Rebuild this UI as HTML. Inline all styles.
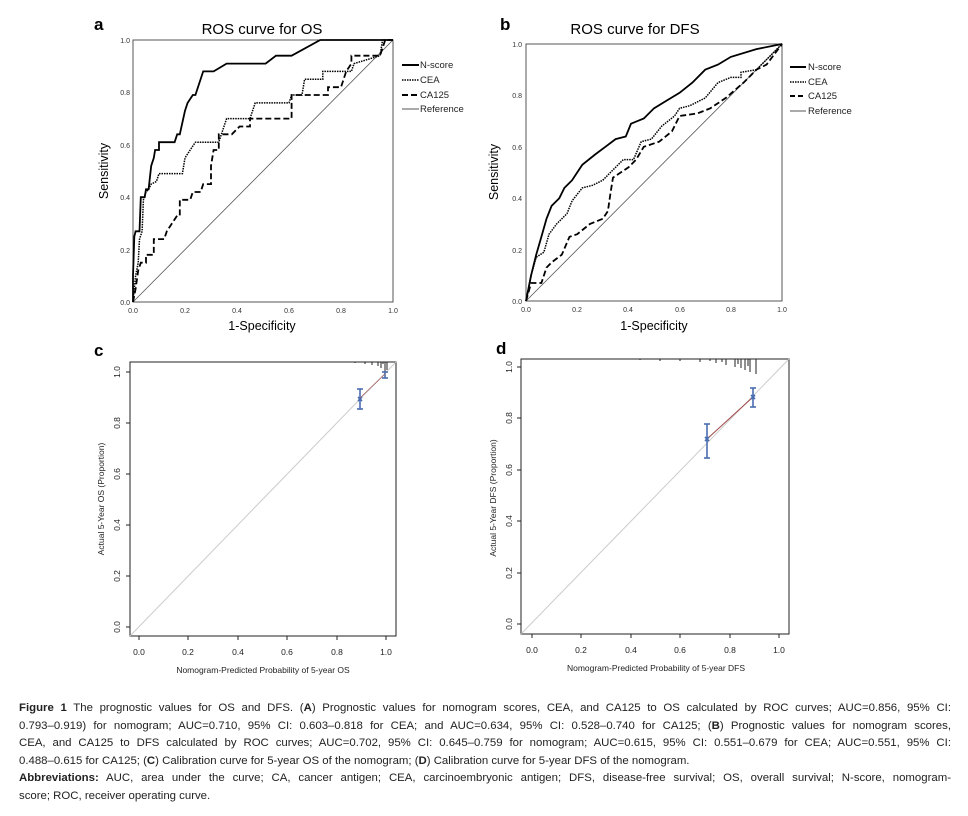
<!DOCTYPE html>
<html><head><meta charset="utf-8">
<style>
body{margin:0;background:#fff;width:968px;height:816px;overflow:hidden;font-family:"Liberation Sans",sans-serif}
svg{position:absolute;left:0;top:0}
.cap{position:absolute;left:19px;top:700px;width:932px;font-size:11.4px;line-height:17.6px;color:#222;font-family:"Liberation Sans",sans-serif}
.cap div{white-space:nowrap;text-align:justify;text-align-last:justify}
.cap div.l{text-align-last:left}
</style></head><body>
<svg id="s" width="968" height="690" viewBox="0 0 968 690" font-family="Liberation Sans, sans-serif">
<!-- panel a -->
<text x="94" y="30" font-size="17" font-weight="bold">a</text>
<text x="262" y="34" font-size="15" text-anchor="middle">ROS curve for OS</text>
<rect x="133" y="40" width="260" height="262" fill="none" stroke="#555" stroke-width="1"/>
<g font-size="7" fill="#333" text-anchor="end">
<text x="130" y="43">1.0</text><text x="130" y="95">0.8</text><text x="130" y="148">0.6</text><text x="130" y="200">0.4</text><text x="130" y="253">0.2</text><text x="130" y="305">0.0</text>
</g>
<g font-size="7" fill="#333" text-anchor="middle">
<text x="133" y="313">0.0</text><text x="185" y="313">0.2</text><text x="237" y="313">0.4</text><text x="289" y="313">0.6</text><text x="341" y="313">0.8</text><text x="393" y="313">1.0</text>
</g>
<text x="262" y="330" font-size="12.5" text-anchor="middle">1-Specificity</text>
<text transform="translate(108,171) rotate(-90)" font-size="12.5" text-anchor="middle">Sensitivity</text>
<g font-size="9.5" fill="#222">
<line x1="402" y1="65" x2="419" y2="65" stroke="#000" stroke-width="2"/><text x="420" y="68">N-score</text>
<line x1="402" y1="80" x2="419" y2="80" stroke="#000" stroke-width="1.5" stroke-dasharray="1.5,1"/><text x="420" y="83">CEA</text>
<line x1="402" y1="95" x2="419" y2="95" stroke="#000" stroke-width="2" stroke-dasharray="6,3"/><text x="420" y="98">CA125</text>
<line x1="402" y1="109" x2="419" y2="109" stroke="#555" stroke-width="1"/><text x="420" y="112">Reference</text>
</g>
<!-- panel b -->
<text x="500" y="30" font-size="17" font-weight="bold">b</text>
<text x="635" y="34" font-size="15" text-anchor="middle">ROS curve for DFS</text>
<rect x="526" y="44" width="256" height="257" fill="none" stroke="#555" stroke-width="1"/>
<g font-size="7" fill="#333" text-anchor="end">
<text x="522" y="47">1.0</text><text x="522" y="98">0.8</text><text x="522" y="150">0.6</text><text x="522" y="201">0.4</text><text x="522" y="253">0.2</text><text x="522" y="304">0.0</text>
</g>
<g font-size="7" fill="#333" text-anchor="middle">
<text x="526" y="312">0.0</text><text x="577" y="312">0.2</text><text x="628" y="312">0.4</text><text x="680" y="312">0.6</text><text x="731" y="312">0.8</text><text x="782" y="312">1.0</text>
</g>
<text x="654" y="330" font-size="12.5" text-anchor="middle">1-Specificity</text>
<text transform="translate(498,172) rotate(-90)" font-size="12.5" text-anchor="middle">Sensitivity</text>
<g font-size="9.5" fill="#222">
<line x1="790" y1="67" x2="806" y2="67" stroke="#000" stroke-width="2"/><text x="808" y="70">N-score</text>
<line x1="790" y1="82" x2="806" y2="82" stroke="#000" stroke-width="1.5" stroke-dasharray="1.5,1"/><text x="808" y="85">CEA</text>
<line x1="790" y1="96" x2="806" y2="96" stroke="#000" stroke-width="2" stroke-dasharray="5,3"/><text x="808" y="99">CA125</text>
<line x1="790" y1="111" x2="806" y2="111" stroke="#555" stroke-width="1"/><text x="808" y="114">Reference</text>
</g>
<!-- panel c -->
<text x="94" y="356" font-size="17" font-weight="bold">c</text>
<rect x="130" y="362" width="266" height="274" fill="none" stroke="#222" stroke-width="1"/>
<line x1="130" y1="636" x2="396" y2="362" stroke="#ccc" stroke-width="1"/>
<g stroke="#222" stroke-width="1">
<line x1="139" y1="636" x2="139" y2="640"/><line x1="188" y1="636" x2="188" y2="640"/><line x1="238" y1="636" x2="238" y2="640"/><line x1="287" y1="636" x2="287" y2="640"/><line x1="337" y1="636" x2="337" y2="640"/><line x1="386" y1="636" x2="386" y2="640"/>
<line x1="130" y1="372" x2="126" y2="372"/><line x1="130" y1="423" x2="126" y2="423"/><line x1="130" y1="474" x2="126" y2="474"/><line x1="130" y1="525" x2="126" y2="525"/><line x1="130" y1="576" x2="126" y2="576"/><line x1="130" y1="627" x2="126" y2="627"/>
<line x1="372" y1="362" x2="372" y2="365"/><line x1="378" y1="362" x2="378" y2="366"/><line x1="381" y1="362" x2="381" y2="368"/><line x1="383" y1="362" x2="383" y2="364"/><line x1="385" y1="362" x2="385" y2="372"/><line x1="387" y1="362" x2="387" y2="370"/><line x1="365" y1="362" x2="365" y2="364"/><line x1="355" y1="362" x2="355" y2="363"/>
</g>
<g font-size="8.5" fill="#222" text-anchor="middle">
<text x="139" y="655">0.0</text><text x="188" y="655">0.2</text><text x="238" y="655">0.4</text><text x="287" y="655">0.6</text><text x="337" y="655">0.8</text><text x="386" y="655">1.0</text>
<text transform="translate(120,372) rotate(-90)">1.0</text><text transform="translate(120,423) rotate(-90)">0.8</text><text transform="translate(120,474) rotate(-90)">0.6</text><text transform="translate(120,525) rotate(-90)">0.4</text><text transform="translate(120,576) rotate(-90)">0.2</text><text transform="translate(120,627) rotate(-90)">0.0</text>
<text x="263" y="673">Nomogram-Predicted Probability of 5-year OS</text>
<text transform="translate(104,499) rotate(-90)">Actual 5-Year OS (Proportion)</text>
</g>
<g stroke="#4a6db0" stroke-width="1.6" fill="none">
<line x1="360" y1="389" x2="360" y2="409"/><line x1="357" y1="389" x2="363" y2="389"/><line x1="357" y1="409" x2="363" y2="409"/>
<path d="M358 397 l4 4 M362 397 l-4 4"/>
<line x1="385" y1="372" x2="385" y2="378"/><line x1="382" y1="372" x2="388" y2="372"/><line x1="382" y1="378" x2="388" y2="378"/>
</g>
<line x1="360" y1="398" x2="385" y2="374" stroke="#a06060" stroke-width="0.8"/>
<!-- panel d -->
<text x="496" y="354" font-size="17" font-weight="bold">d</text>
<rect x="521" y="359" width="268" height="275" fill="none" stroke="#222" stroke-width="1"/>
<line x1="521" y1="634" x2="789" y2="359" stroke="#ccc" stroke-width="1"/>
<g stroke="#222" stroke-width="1">
<line x1="532" y1="634" x2="532" y2="638"/><line x1="581" y1="634" x2="581" y2="638"/><line x1="631" y1="634" x2="631" y2="638"/><line x1="680" y1="634" x2="680" y2="638"/><line x1="730" y1="634" x2="730" y2="638"/><line x1="779" y1="634" x2="779" y2="638"/>
<line x1="521" y1="367" x2="517" y2="367"/><line x1="521" y1="418" x2="517" y2="418"/><line x1="521" y1="470" x2="517" y2="470"/><line x1="521" y1="521" x2="517" y2="521"/><line x1="521" y1="573" x2="517" y2="573"/><line x1="521" y1="624" x2="517" y2="624"/>
<line x1="700" y1="359" x2="700" y2="362"/><line x1="710" y1="359" x2="710" y2="361"/><line x1="716" y1="359" x2="716" y2="363"/><line x1="722" y1="359" x2="722" y2="362"/><line x1="726" y1="359" x2="726" y2="365"/><line x1="735" y1="359" x2="735" y2="367"/><line x1="738" y1="359" x2="738" y2="364"/><line x1="741" y1="359" x2="741" y2="368"/><line x1="745" y1="359" x2="745" y2="370"/><line x1="748" y1="359" x2="748" y2="366"/><line x1="750" y1="359" x2="750" y2="372"/><line x1="756" y1="359" x2="756" y2="374"/><line x1="680" y1="359" x2="680" y2="361"/><line x1="660" y1="359" x2="660" y2="361"/><line x1="640" y1="359" x2="640" y2="360"/>
</g>
<g font-size="8.5" fill="#222" text-anchor="middle">
<text x="532" y="653">0.0</text><text x="581" y="653">0.2</text><text x="631" y="653">0.4</text><text x="680" y="653">0.6</text><text x="730" y="653">0.8</text><text x="779" y="653">1.0</text>
<text transform="translate(512,367) rotate(-90)">1.0</text><text transform="translate(512,418) rotate(-90)">0.8</text><text transform="translate(512,470) rotate(-90)">0.6</text><text transform="translate(512,521) rotate(-90)">0.4</text><text transform="translate(512,573) rotate(-90)">0.2</text><text transform="translate(512,624) rotate(-90)">0.0</text>
<text x="656" y="671">Nomogram-Predicted Probability of 5-year DFS</text>
<text transform="translate(496,498) rotate(-90)">Actual 5-Year DFS (Proportion)</text>
</g>
<line x1="707" y1="439" x2="753" y2="397" stroke="#a04848" stroke-width="1"/>
<g stroke="#4a6db0" stroke-width="1.6" fill="none">
<line x1="707" y1="424" x2="707" y2="458"/><line x1="704" y1="424" x2="710" y2="424"/><line x1="704" y1="458" x2="710" y2="458"/>
<path d="M705 437 l4 4 M709 437 l-4 4"/>
<line x1="753" y1="388" x2="753" y2="407"/><line x1="750" y1="388" x2="756" y2="388"/><line x1="750" y1="407" x2="756" y2="407"/>
<path d="M751 395 l4 4 M755 395 l-4 4"/>
</g>
<g id="curves"></g>
</svg>
<div class="cap">
<div><b>Figure 1</b> The prognostic values for OS and DFS. (<b>A</b>) Prognostic values for nomogram scores, CEA, and CA125 to OS calculated by ROC curves; AUC=0.856, 95% CI:</div>
<div>0.793–0.919) for nomogram; AUC=0.710, 95% CI: 0.603–0.818 for CEA; and AUC=0.634, 95% CI: 0.528–0.740 for CA125; (<b>B</b>) Prognostic values for nomogram scores,</div>
<div>CEA, and CA125 to DFS calculated by ROC curves; AUC=0.702, 95% CI: 0.645–0.759 for nomogram; AUC=0.615, 95% CI: 0.551–0.679 for CEA; AUC=0.551, 95% CI:</div>
<div class="l">0.488–0.615 for CA125; (<b>C</b>) Calibration curve for 5-year OS of the nomogram; (<b>D</b>) Calibration curve for 5-year DFS of the nomogram.</div>
<div><b>Abbreviations:</b> AUC, area under the curve; CA, cancer antigen; CEA, carcinoembryonic antigen; DFS, disease-free survival; OS, overall survival; N-score, nomogram-</div>
<div class="l">score; ROC, receiver operating curve.</div>
</div>
<script>
var g=document.getElementById('curves'),NS='http://www.w3.org/2000/svg';
function add(pts,x0,w,y0,h,style){var p=document.createElementNS(NS,'polyline');
p.setAttribute('points',pts.map(function(q){return (x0+q[0]*w).toFixed(1)+','+(y0-q[1]*h).toFixed(1)}).join(' '));
p.setAttribute('fill','none');for(var k in style)p.setAttribute(k,style[k]);g.appendChild(p);}
var solid={stroke:'#000','stroke-width':'1.8'},dot={stroke:'#000','stroke-width':'1.5','stroke-dasharray':'1.5,1'},dash={stroke:'#000','stroke-width':'1.8','stroke-dasharray':'6,3'},ref={stroke:'#555','stroke-width':'0.8'};
var aN=[[0,0],[0,0.1],[0.005,0.25],[0.01,0.27],[0.025,0.27],[0.03,0.4],[0.045,0.4],[0.05,0.43],[0.06,0.43],[0.07,0.52],[0.08,0.55],[0.085,0.58],[0.1,0.58],[0.1,0.61],[0.16,0.61],[0.17,0.64],[0.18,0.64],[0.2,0.73],[0.21,0.76],[0.23,0.79],[0.24,0.79],[0.27,0.88],[0.31,0.88],[0.36,0.91],[0.51,0.91],[0.55,0.94],[0.61,0.94],[0.72,1],[1,1]];
var aC=[[0,0],[0.01,0.1],[0.02,0.15],[0.025,0.24],[0.035,0.27],[0.04,0.39],[0.05,0.42],[0.06,0.43],[0.07,0.45],[0.09,0.46],[0.1,0.49],[0.19,0.49],[0.2,0.55],[0.22,0.58],[0.24,0.61],[0.33,0.61],[0.34,0.64],[0.36,0.7],[0.45,0.7],[0.47,0.76],[0.6,0.76],[0.61,0.79],[0.65,0.79],[0.66,0.85],[0.73,0.85],[0.73,0.88],[0.84,0.88],[0.85,0.91],[0.95,0.94],[0.96,1],[1,1]];
var aA=[[0,0],[0.01,0.05],[0.02,0.12],[0.03,0.15],[0.05,0.15],[0.05,0.18],[0.08,0.18],[0.08,0.24],[0.12,0.24],[0.13,0.27],[0.15,0.3],[0.17,0.33],[0.18,0.33],[0.18,0.39],[0.22,0.39],[0.23,0.42],[0.26,0.42],[0.27,0.45],[0.3,0.45],[0.3,0.52],[0.31,0.58],[0.33,0.58],[0.33,0.64],[0.38,0.64],[0.41,0.67],[0.45,0.67],[0.45,0.7],[0.61,0.7],[0.61,0.79],[0.75,0.79],[0.75,0.82],[0.8,0.82],[0.82,0.88],[0.84,0.91],[0.84,0.94],[0.95,0.94],[0.97,1],[1,1]];
var bN=[[0,0],[0.01,0.05],[0.02,0.1],[0.04,0.18],[0.06,0.25],[0.08,0.32],[0.1,0.37],[0.13,0.4],[0.15,0.44],[0.18,0.47],[0.22,0.53],[0.27,0.57],[0.31,0.6],[0.35,0.63],[0.39,0.64],[0.41,0.69],[0.46,0.71],[0.5,0.75],[0.55,0.78],[0.6,0.81],[0.65,0.85],[0.7,0.9],[0.75,0.92],[0.8,0.95],[0.9,0.98],[1,1]];
var bC=[[0,0],[0.02,0.1],[0.04,0.17],[0.07,0.19],[0.09,0.26],[0.12,0.3],[0.16,0.34],[0.18,0.39],[0.22,0.44],[0.26,0.45],[0.3,0.47],[0.34,0.51],[0.38,0.55],[0.42,0.55],[0.45,0.62],[0.49,0.63],[0.53,0.68],[0.58,0.72],[0.6,0.75],[0.64,0.76],[0.7,0.79],[0.75,0.85],[0.8,0.87],[0.84,0.87],[0.84,0.89],[0.9,0.9],[0.95,0.95],[1,1]];
var bA=[[0,0],[0.02,0.07],[0.06,0.07],[0.08,0.13],[0.1,0.15],[0.14,0.18],[0.17,0.25],[0.2,0.26],[0.25,0.3],[0.3,0.32],[0.32,0.35],[0.33,0.42],[0.34,0.48],[0.4,0.52],[0.43,0.55],[0.46,0.6],[0.52,0.62],[0.57,0.66],[0.6,0.72],[0.67,0.73],[0.72,0.75],[0.78,0.79],[0.85,0.85],[0.9,0.9],[0.94,0.92],[1,1]];
add([[0,0],[1,1]],133,260,302,262,ref);add(aA,133,260,302,262,dash);add(aC,133,260,302,262,dot);add(aN,133,260,302,262,solid);
add([[0,0],[1,1]],526,256,301,257,ref);add(bA,526,256,301,257,dash);add(bC,526,256,301,257,dot);add(bN,526,256,301,257,solid);
</script>
</body></html>
